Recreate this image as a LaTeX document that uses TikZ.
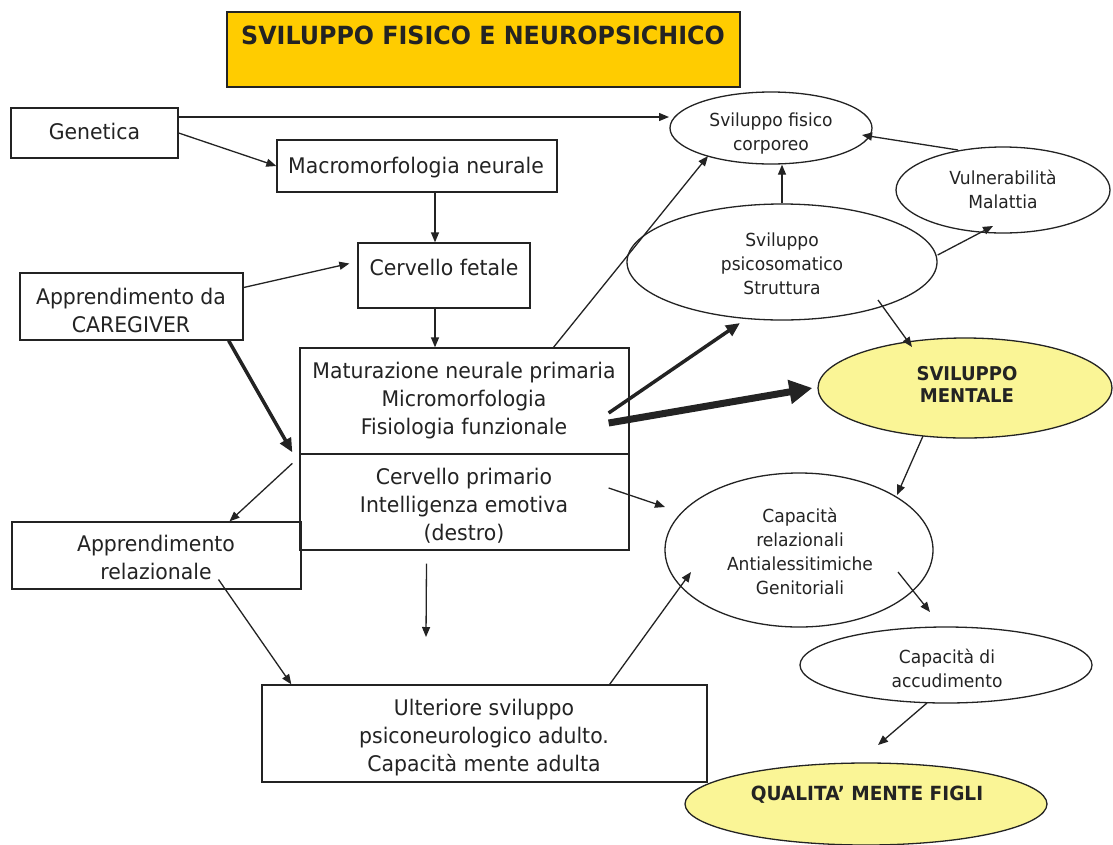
\documentclass[tikz,border=0pt]{standalone}
\usepackage{fontspec}
\setmainfont{DejaVu Sans}[FakeStretch=0.95]
\usetikzlibrary{arrows.meta,shapes.geometric,calc}
\definecolor{gold}{RGB}{255,204,0}
\definecolor{paleyel}{RGB}{250,245,150}
\definecolor{ink}{RGB}{35,35,35}
\begin{document}
\begin{tikzpicture}[x=1pt,y=-1pt,
  box/.style={draw=ink,line width=1.3pt,rectangle,inner sep=0pt},
  ell/.style={draw=ink,line width=1.3pt,ellipse,inner sep=0pt},
  btxt/.style={text=ink,align=center,font=\fontsize{21.5}{28}\selectfont,inner sep=0pt},
  etxt/.style={text=ink,align=center,font=\fontsize{18}{24}\selectfont,inner sep=0pt},
  boldtxt/.style={text=ink,align=center,inner sep=0pt},
  arr/.style={draw=ink,line width=1.3pt,-{Triangle[length=10pt,width=8pt]}},
  thickarr/.style={draw=ink,line width=3.5pt,-{Triangle[length=14pt,width=12pt]}},
  hugearr/.style={draw=ink,line width=7pt,-{Triangle[length=23pt,width=23pt]}}
]
\useasboundingbox (0,0) rectangle (1113,844);
\fill[white] (0,0) rectangle (1113,844);

% ---------- boxes ----------
\node[box,fill=gold,minimum width=513pt,minimum height=75pt] (title) at (483.5,49.5) {};
\node[box,minimum width=167pt,minimum height=50pt] (gen) at (94.5,133) {};
\node[box,minimum width=280pt,minimum height=52pt] (macro) at (417,166) {};
\node[box,minimum width=172pt,minimum height=65pt] (fetal) at (444,275.5) {};
\node[box,minimum width=223pt,minimum height=67pt] (care) at (131.5,306.5) {};
\node[box,minimum width=329pt,minimum height=106pt] (matu) at (464.5,401) {};
\node[box,minimum width=329pt,minimum height=96pt] (cerv) at (464.5,502) {};
\node[box,minimum width=289pt,minimum height=67pt] (apprel) at (156.5,555.5) {};
\node[box,minimum width=445pt,minimum height=97pt] (ult) at (484.5,733.5) {};

% ---------- ellipses ----------
\node[ell,minimum width=202pt,minimum height=72pt] (fis) at (771,128) {};
\node[ell,minimum width=214pt,minimum height=86pt] (vul) at (1003,190) {};
\node[ell,minimum width=310pt,minimum height=116pt] (psi) at (782,262) {};
\node[ell,fill=paleyel,minimum width=294pt,minimum height=100pt] (men) at (965,388) {};
\node[ell,minimum width=268pt,minimum height=154pt] (cap) at (799,550) {};
\node[ell,minimum width=292pt,minimum height=76pt] (acc) at (946,665) {};
\node[ell,fill=paleyel,minimum width=362pt,minimum height=82pt] (qua) at (866,804) {};

% ---------- texts ----------
\node[boldtxt,font=\fontsize{25}{30}\selectfont\bfseries] (ttitle) at (483,35) {SVILUPPO FISICO E NEUROPSICHICO};
\node[btxt] (tgen) at (94.5,131) {Genetica};
\node[btxt] (tmacro) at (416,167.5) {Macromorfologia neurale};
\node[btxt] (tfetal) at (444,267) {Cervello fetale};
\node[btxt] (tcare) at (131,310.5) {Apprendimento da\\CAREGIVER};
\node[btxt] (tmatu) at (464,400.5) {Maturazione neurale primaria\\Micromorfologia\\Fisiologia funzionale};
\node[btxt] (tcerv) at (464,506) {Cervello primario\\Intelligenza emotiva\\(destro)};
\node[btxt] (tapprel) at (156,557) {Apprendimento\\relazionale};
\node[btxt] (tult) at (484,737.5) {Ulteriore sviluppo\\psiconeurologico adulto.\\Capacità mente adulta};

\node[etxt] (tfis) at (771,134) {Sviluppo fisico\\corporeo};
\node[etxt] (tvul) at (1003,189) {Vulnerabilità\\Malattia};
\node[etxt] (tpsi) at (782,263.5) {Sviluppo\\psicosomatico\\Struttura};
\node[boldtxt,font=\fontsize{19}{22}\selectfont\bfseries] (tmen) at (967,384) {SVILUPPO\\MENTALE};
\node[etxt] (tcap) at (800,551) {Capacità\\relazionali\\Antialessitimiche\\Genitoriali};
\node[etxt] (tacc) at (947,668) {Capacità di\\accudimento};
\node[boldtxt,font=\fontsize{19.5}{24}\selectfont\bfseries] (tqua) at (867,795) {QUALITA’ MENTE FIGLI};

% ---------- free ends ----------
\coordinate (d9) at (426,637);
\coordinate (c10) at (665,507);
\coordinate (c20) at (930,612);
\coordinate (c21) at (878,745);

% ---------- connectors ----------
\draw[arr] ([yshift=16pt]gen.east) -- ([shift={(-102pt,11pt)}]fis.center);
\draw[arr] (gen.east) -- (macro.west);
\draw[arr] ([xshift=18pt]macro.south) -- ([xshift=18pt]macro.south |- fetal.north);
\draw[arr] ([yshift=19pt]care.east) -- ([shift={(-8pt,12pt)}]fetal.west);
\draw[arr] ([xshift=-9pt]fetal.south) -- ([xshift=-9pt]fetal.south |- matu.north);
\draw[thickarr] ([xshift=-15pt]care.south east) -- ([shift={(-7pt,1pt)}]cerv.north west);
\draw[arr] ([shift={(-7pt,-10pt)}]cerv.north west) -- ([xshift=73pt]apprel.north);
\draw[arr] ([shift={(62pt,-24pt)}]apprel.center) -- ([xshift=30pt]ult.north west);
\draw[arr] ([shift={(-38pt,-13pt)}]cerv.south) -- (d9);
\draw[arr] ([shift={(-21pt,14pt)}]cerv.east) -- (c10);
\draw[arr] ([xshift=-98pt]ult.north east) -- ([shift={(-108pt,-22pt)}]cap.center);
\draw[arr] ([xshift=89pt]matu.north) -- ([shift={(-63pt,-28pt)}]fis.center);
\draw[thickarr] ([shift={(-21pt,-12pt)}]matu.east) -- ([shift={(-42pt,-61pt)}]psi.center);
\draw[hugearr] ([shift={(-21pt,-22pt)}]matu.east) -- ([xshift=-5pt]men.west);
\draw[arr] (psi.north) -- (psi.north |- fis.south);
\draw[arr] ([yshift=7pt]psi.east) -- ([shift={(-10pt,-36pt)}]vul.center);
\draw[arr] ([shift={(-45pt,40pt)}]vul.center) -- ([shift={(91pt,-7pt)}]fis.center);
\draw[arr] ([shift={(96pt,-38pt)}]psi.center) -- ([shift={(-53pt,41pt)}]men.center);
\draw[arr] ([shift={(-42pt,-48pt)}]men.center) -- ([shift={(98pt,55pt)}]cap.center);
\draw[arr] ([shift={(99pt,-22pt)}]cap.center) -- (c20);
\draw[arr] ([shift={(-19pt,-38pt)}]acc.center) -- (c21);
\end{tikzpicture}
\end{document}
